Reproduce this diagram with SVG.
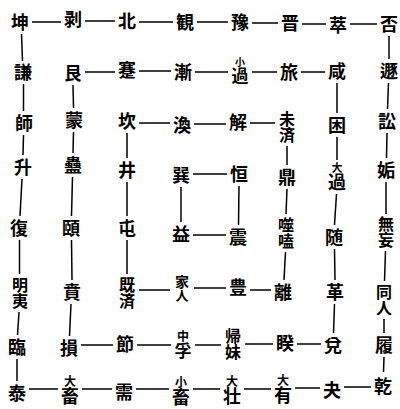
<svg xmlns="http://www.w3.org/2000/svg" width="400" height="409" viewBox="0 0 400 409">
<style>
.bg{fill:#fff}
text{font-family:"Noto Sans CJK JP","Noto Sans CJK SC",sans-serif;font-weight:700;fill:#000;text-anchor:middle}
.s{font-size:18px}
.v{writing-mode:vertical-rl;font-size:16px}
#connectors line{stroke:#000;stroke-width:1.5;fill:none}
</style>
<rect class="bg" width="400" height="409"/>
<g id="connectors">
<line x1="32" y1="22" x2="61" y2="22"/>
<line x1="85" y1="21" x2="115" y2="21"/>
<line x1="139" y1="22" x2="173" y2="22"/>
<line x1="197" y1="22" x2="228" y2="22"/>
<line x1="252" y1="23" x2="278" y2="23"/>
<line x1="302" y1="24" x2="326" y2="24"/>
<line x1="350" y1="24" x2="377" y2="24"/>
<line x1="85" y1="72" x2="115" y2="72"/>
<line x1="139" y1="71" x2="171" y2="71"/>
<line x1="195" y1="72" x2="228" y2="72"/>
<line x1="252" y1="72" x2="277" y2="72"/>
<line x1="301" y1="72" x2="325" y2="72"/>
<line x1="139" y1="123" x2="170" y2="123"/>
<line x1="194" y1="124" x2="226" y2="124"/>
<line x1="250" y1="123" x2="275" y2="123"/>
<line x1="193" y1="174" x2="227" y2="174"/>
<line x1="193" y1="235" x2="226" y2="235"/>
<line x1="139" y1="290" x2="170" y2="290"/>
<line x1="194" y1="288" x2="226" y2="288"/>
<line x1="250" y1="290" x2="271" y2="290"/>
<line x1="81" y1="345" x2="113" y2="345"/>
<line x1="137" y1="345" x2="171" y2="345"/>
<line x1="195" y1="345" x2="221" y2="345"/>
<line x1="245" y1="344" x2="273" y2="344"/>
<line x1="297" y1="344" x2="321" y2="344"/>
<line x1="29" y1="389" x2="58" y2="389"/>
<line x1="82" y1="389" x2="112" y2="389"/>
<line x1="136" y1="389" x2="169" y2="389"/>
<line x1="193" y1="389" x2="220" y2="389"/>
<line x1="244" y1="389" x2="271" y2="389"/>
<line x1="295" y1="388" x2="320" y2="388"/>
<line x1="344" y1="387" x2="371" y2="387"/>
<line x1="21.5" y1="34" x2="22.5" y2="61"/>
<line x1="23.5" y1="84" x2="23.5" y2="111"/>
<line x1="23.5" y1="135" x2="23" y2="155"/>
<line x1="22" y1="179" x2="20" y2="216"/>
<line x1="19.5" y1="240" x2="19.5" y2="274"/>
<line x1="19" y1="312" x2="17.5" y2="335"/>
<line x1="17" y1="359" x2="17" y2="381"/>
<line x1="73" y1="85" x2="73.5" y2="108"/>
<line x1="73.5" y1="132" x2="73" y2="153"/>
<line x1="72.5" y1="177" x2="71.5" y2="216"/>
<line x1="71.5" y1="240" x2="72" y2="280"/>
<line x1="71" y1="304" x2="69.5" y2="336"/>
<line x1="127" y1="133" x2="127" y2="158"/>
<line x1="127" y1="182" x2="127" y2="216"/>
<line x1="127" y1="240" x2="127" y2="274"/>
<line x1="181" y1="187" x2="181" y2="222"/>
<line x1="239" y1="186" x2="238.5" y2="225"/>
<line x1="287" y1="146" x2="287" y2="165"/>
<line x1="287" y1="189" x2="286" y2="214"/>
<line x1="285.5" y1="252" x2="284" y2="280"/>
<line x1="337" y1="83" x2="337" y2="113"/>
<line x1="337" y1="137" x2="337" y2="160"/>
<line x1="336.5" y1="194" x2="334.5" y2="225"/>
<line x1="334.5" y1="249" x2="335" y2="280"/>
<line x1="334.5" y1="304" x2="333.5" y2="333"/>
<line x1="389" y1="36" x2="389" y2="59"/>
<line x1="388.5" y1="83" x2="387.5" y2="109"/>
<line x1="387" y1="133" x2="386.5" y2="158"/>
<line x1="386" y1="182" x2="386" y2="214"/>
<line x1="385.5" y1="251" x2="384.5" y2="281"/>
<line x1="384" y1="319" x2="384" y2="333"/>
<line x1="384" y1="357" x2="383.5" y2="372"/>
</g>
<g id="r0c0"><text class="s" x="20" y="29">坤</text></g>
<g id="r0c1"><text class="s" x="73" y="26">剥</text></g>
<g id="r0c2"><text class="s" x="127" y="28">北</text></g>
<g id="r0c3"><text class="s" x="185" y="29">観</text></g>
<g id="r0c4"><text class="s" x="240" y="29">豫</text></g>
<g id="r0c5"><text class="s" x="290" y="30">晋</text></g>
<g id="r0c6"><text class="s" x="338" y="32">萃</text></g>
<g id="r0c7"><text class="s" x="389" y="31">否</text></g>
<g id="r1c0"><text class="s" x="23" y="79">謙</text></g>
<g id="r1c1"><text class="s" x="73" y="80">艮</text></g>
<g id="r1c2"><text class="s" x="127" y="77">蹇</text></g>
<g id="r1c3"><text class="s" x="183" y="79">漸</text></g>
<g id="r1c4"><text class="v" x="240" y="71"><tspan font-size="10">小</tspan><tspan font-size="17">過</tspan></text></g>
<g id="r1c5"><text class="s" x="289" y="79">旅</text></g>
<g id="r1c6"><text class="s" x="337" y="78">咸</text></g>
<g id="r1c7"><text class="s" x="389" y="78">遯</text></g>
<g id="r2c0"><text class="s" x="24" y="130">師</text></g>
<g id="r2c1"><text class="s" x="74" y="127">蒙</text></g>
<g id="r2c2"><text class="s" x="127" y="128">坎</text></g>
<g id="r2c3"><text class="s" x="182" y="132">渙</text></g>
<g id="r2c4"><text class="s" x="238" y="129">解</text></g>
<g id="r2c5"><text class="v" x="287" y="127">未済</text></g>
<g id="r2c6"><text class="s" x="337" y="132">困</text></g>
<g id="r2c7"><text class="s" x="387" y="128">訟</text></g>
<g id="r3c0"><text class="s" x="23" y="174">升</text></g>
<g id="r3c1"><text class="s" x="73" y="172">蠱</text></g>
<g id="r3c2"><text class="s" x="127" y="177">井</text></g>
<g id="r3c3"><text class="s" x="181" y="182">巽</text></g>
<g id="r3c4"><text class="s" x="239" y="181">恒</text></g>
<g id="r3c5"><text class="s" x="287" y="184">鼎</text></g>
<g id="r3c6"><text class="v" x="337" y="177"><tspan font-size="11">大</tspan><tspan font-size="18">過</tspan></text></g>
<g id="r3c7"><text class="s" x="386" y="177">姤</text></g>
<g id="r4c0"><text class="s" x="19" y="235">復</text></g>
<g id="r4c1"><text class="s" x="71" y="235">頤</text></g>
<g id="r4c2"><text class="s" x="127" y="235">屯</text></g>
<g id="r4c3"><text class="s" x="181" y="241">益</text></g>
<g id="r4c4"><text class="s" x="238" y="244">震</text></g>
<g id="r4c5"><text class="v" x="286" y="233">噬嗑</text></g>
<g id="r4c6"><text class="s" x="334" y="244">随</text></g>
<g id="r4c7"><text class="v" x="386" y="232">無妄</text></g>
<g id="r5c0"><text class="v" x="20" y="293">明夷</text></g>
<g id="r5c1"><text class="s" x="72" y="299">賁</text></g>
<g id="r5c2"><text class="v" x="127" y="293">既済</text></g>
<g id="r5c3"><text class="v" x="182" y="288"><tspan font-size="14">家</tspan><tspan font-size="13">人</tspan></text></g>
<g id="r5c4"><text class="s" x="238" y="294">豊</text></g>
<g id="r5c5"><text class="s" x="283" y="299">離</text></g>
<g id="r5c6"><text class="s" x="335" y="299">革</text></g>
<g id="r5c7"><text class="v" x="384" y="300">同人</text></g>
<g id="r6c0"><text class="s" x="17" y="354">臨</text></g>
<g id="r6c1"><text class="s" x="69" y="355">損</text></g>
<g id="r6c2"><text class="s" x="125" y="351">節</text></g>
<g id="r6c3"><text class="v" x="183" y="345"><tspan font-size="12">中</tspan><tspan font-size="17">孚</tspan></text></g>
<g id="r6c4"><text class="v" x="233" y="344">帰妹</text></g>
<g id="r6c5"><text class="s" x="285" y="350">睽</text></g>
<g id="r6c6"><text class="s" x="333" y="352">兌</text></g>
<g id="r6c7"><text class="s" x="384" y="352">履</text></g>
<g id="r7c0"><text class="s" x="17" y="400">泰</text></g>
<g id="r7c1"><text class="v" x="70" y="390"><tspan font-size="12">大</tspan><tspan font-size="18">畜</tspan></text></g>
<g id="r7c2"><text class="s" x="124" y="399">需</text></g>
<g id="r7c3"><text class="v" x="181" y="391"><tspan font-size="12">小</tspan><tspan font-size="18">畜</tspan></text></g>
<g id="r7c4"><text class="v" x="232" y="390"><tspan font-size="12">大</tspan><tspan font-size="18">壮</tspan></text></g>
<g id="r7c5"><text class="v" x="283" y="389"><tspan font-size="12">大</tspan><tspan font-size="18">有</tspan></text></g>
<g id="r7c6"><text class="s" x="332" y="397">夬</text></g>
<g id="r7c7"><text class="s" x="383" y="393">乾</text></g>
</svg>
